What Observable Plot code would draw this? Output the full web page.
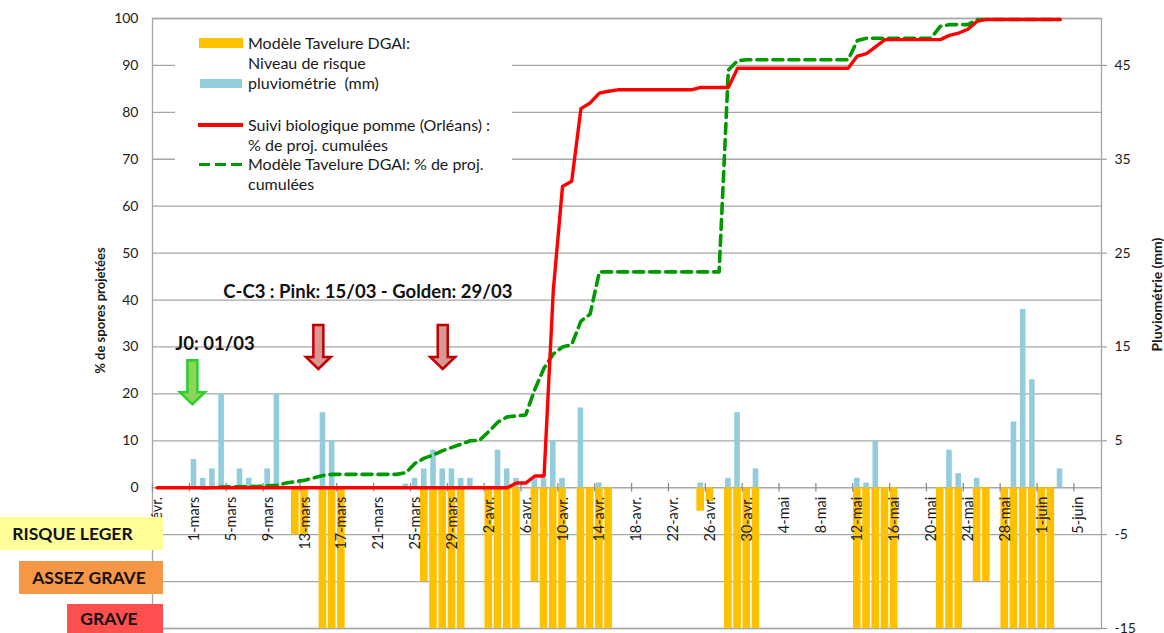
<!DOCTYPE html>
<html>
<head>
<meta charset="utf-8">
<script src="https://cdn.jsdelivr.net/npm/d3@7"></script>
<script src="https://cdn.jsdelivr.net/npm/@observablehq/plot@0.6"></script>
<style>
  body { margin: 0; background: #fff; }
  #wrap { position: relative; width: 1164px; height: 633px; overflow: hidden; font-family: Lato, "Open Sans", sans-serif; color: #1a1a1a; }
  #chart { position: absolute; left: 0; top: 0; }
  .legend { position: absolute; left: 175px; top: 28px; width: 337px; height: 168px; background: #fff; }
  .lg-text { position: absolute; left: 248px; font-size: 16px; line-height: 19.5px; color: #1a1a1a; white-space: nowrap; }
  .sw { position: absolute; }
  .risk { position: absolute; box-sizing: border-box; font-weight: bold; font-size: 17.5px; display: flex; align-items: center; justify-content: center; color: #111; }
</style>
</head>
<body>
<div id="wrap">
  <div id="chart"></div>
</div>
<script>
// ---------------- DATA ----------------
// daily rainfall (mm), right axis
const rainDates = ["2019-03-01","2019-03-02","2019-03-03","2019-03-04","2019-03-06","2019-03-07","2019-03-09","2019-03-10",
  "2019-03-15","2019-03-16","2019-03-24","2019-03-25","2019-03-26","2019-03-27","2019-03-28","2019-03-29","2019-03-30","2019-03-31",
  "2019-04-03","2019-04-04","2019-04-05","2019-04-07","2019-04-08","2019-04-09","2019-04-10","2019-04-12","2019-04-14",
  "2019-04-25","2019-04-28","2019-04-29","2019-05-01","2019-05-12","2019-05-13","2019-05-14",
  "2019-05-22","2019-05-23","2019-05-25","2019-05-29","2019-05-30","2019-05-31","2019-06-03"];
const rainMm = [3,1,2,10,2,1,2,10,
  8,5,0.4,1,2,4,2,2,1,1,
  4,2,1,1,1,5,1,8.5,0.5,
  0.5,1,8,2,1,0.5,5,
  4,1.5,1,7,19,11.5,2];

// Modèle Tavelure DGAl : niveau de risque (plotted on the right axis, negative)
const riskDates = ["2019-03-12","2019-03-13","2019-03-15","2019-03-16","2019-03-17",
  "2019-03-26","2019-03-27","2019-03-28","2019-03-29","2019-03-30",
  "2019-04-02","2019-04-03","2019-04-04","2019-04-05",
  "2019-04-07","2019-04-08","2019-04-09","2019-04-10",
  "2019-04-12","2019-04-13","2019-04-14","2019-04-15",
  "2019-04-25","2019-04-26",
  "2019-04-28","2019-04-29","2019-04-30","2019-05-01",
  "2019-05-12","2019-05-13","2019-05-14","2019-05-15","2019-05-16",
  "2019-05-21","2019-05-22","2019-05-23","2019-05-25","2019-05-26",
  "2019-05-28","2019-05-29","2019-05-30","2019-05-31","2019-06-01","2019-06-02"];
const riskLevel = [-5,-5,-15,-15,-15,
  -10,-15,-15,-15,-15,
  -15,-15,-15,-15,
  -10,-15,-15,-15,
  -15,-15,-15,-15,
  -2.5,-1.5,
  -15,-15,-15,-15,
  -15,-15,-15,-15,-15,
  -15,-15,-15,-10,-10,
  -15,-15,-15,-15,-15,-15];

// Suivi biologique pomme (Orléans) : % de projections cumulées, daily from 25-févr.
const bioStart = "2019-02-25";
const bioPct = [
  0,0,0,0,0,0,0,0,0,0, 0,0,0,0,0,0,0,0,0,0,
  0,0,0,0,0,0,0,0,0,0, 0,0,0,0,0,0,0,0,0,
  1,1,2.5,2.5,42,64.2,65.3,80.8,82,84.1,84.5,
  84.8,84.8,84.8,84.8,84.8,84.8,84.8,84.8,84.8,
  85.3,85.3,85.3,85.3,
  89.4,89.4,89.4,89.4,89.4,89.4,89.4,89.4,89.4,89.4,89.4,89.4,89.4,
  92,92.5,94,
  95.5,95.5,95.5,95.5,95.5,95.5,95.5,
  96.4,96.9,97.7,99.4,
  99.8,99.8,99.8,99.8,99.8,99.8,99.8,99.8,99.8];

// Modèle Tavelure DGAl : % de projections cumulées, daily from 2-mars
const modelStart = "2019-03-02";
const modelPct = [
  0,0.05,0.15,0.2,0.2,0.25,0.3,0.4,0.5,1.0,1.3,1.6,2.1,2.6,
  2.85,2.85,2.85,2.85,2.85,2.85,2.85,2.85,
  3.2,5.2,6.3,7.0,7.9,8.6,9.3,10,10.1,12,14,15.1,15.3,15.5,
  21,25.5,28.5,30,30.5,35.5,37,
  46,46,46,46,46,46,46,46,46,46,46,46,46,46,
  89,91,
  91.2,91.2,91.2,91.2,91.2,91.2,91.2,91.2,91.2,91.2,91.2,91.2,
  95.3,
  95.8,95.8,95.8,95.8,95.8,95.8,95.8,95.8,
  98.3,98.7,98.7,98.7,
  99.8,99.8,99.8,99.8,99.8,99.8,99.8,99.8,99.8,99.8];

// x-axis tick labels (every 4 days from 25-févr.)
const tickLabels = ["25-févr.","1-mars","5-mars","9-mars","13-mars","17-mars","21-mars","25-mars","29-mars",
  "2-avr.","6-avr.","10-avr.","14-avr.","18-avr.","22-avr.","26-avr.","30-avr.",
  "4-mai","8-mai","12-mai","16-mai","20-mai","24-mai","28-mai","1-juin","5-juin"];
const leftTicks = [0,10,20,30,40,50,60,70,80,90,100];
const rightTicks = [-15,-5,5,15,25,35,45];

// ---------------- BUILD ----------------
const DAY = 864e5;
const parse = s => new Date(s + "T00:00:00Z");
const xStart = parse("2019-02-25");
const xEnd = parse("2019-06-08");
const add = (d, n) => new Date(+d + n * DAY);

const rain = rainDates.map((d, i) => ({x1: parse(d), x2: add(parse(d), 1), mm: rainMm[i]}));
const risk = riskDates.map((d, i) => ({x1: parse(d), x2: add(parse(d), 1), v: riskLevel[i]}));
const bio = bioPct.map((v, i) => ({x: add(parse(bioStart), i + 0.5), v}));
const model = modelPct.map((v, i) => ({x: add(parse(modelStart), i + 0.5), v}));
const ticks = tickLabels.map((t, i) => ({x: add(xStart, 4 * i), t}));

const arrowSymbol = {
  draw(ctx) {
    ctx.moveTo(-5, -22); ctx.lineTo(5, -22); ctx.lineTo(5, 10); ctx.lineTo(12.5, 10);
    ctx.lineTo(0, 22); ctx.lineTo(-12.5, 10); ctx.lineTo(-5, 10); ctx.closePath();
  }
};
const greenArrow = [{x: new Date("2019-03-01T08:00:00Z"), y: 22.5}];
const redArrows = [{x: new Date("2019-03-15T00:00:00Z"), y: 30}, {x: new Date("2019-03-28T12:00:00Z"), y: 30}];

const chart = Plot.plot({
  width: 1164,
  height: 633,
  marginLeft: 152,
  marginRight: 63,
  marginTop: 18,
  marginBottom: 5,
  style: {fontFamily: "Lato, 'Open Sans', sans-serif", fontSize: "14px", color: "#1a1a1a", background: "#fff"},
  x: {type: "utc", domain: [xStart, xEnd], axis: null},
  y: {domain: [-30, 100], axis: null},
  marks: [
    Plot.ruleY(d3.range(-30, 101, 10), {stroke: "#a6a6a6", strokeWidth: 1.3}),
    Plot.frame({stroke: "#a6a6a6", strokeWidth: 1.3}),
    Plot.rectY(risk, {x1: "x1", x2: "x2", y1: 0, y2: d => d.v * 2, fill: "#FFC000", insetLeft: 0.8, insetRight: 0.8}),
    Plot.rectY(rain, {x1: "x1", x2: "x2", y1: 0, y2: d => d.mm * 2, fill: "#93CDDD", insetLeft: 1.8, insetRight: 1.8}),
    Plot.ruleX(ticks, {x: "x", y1: -0.9, y2: 0.9, stroke: "#8c8c8c", strokeWidth: 1.3}),
    Plot.text(ticks, {x: "x", y: 0, text: "t", rotate: -90, textAnchor: "end", lineAnchor: "middle", dy: 9, dx: 5, fontSize: 14.5, fill: "#1a1a1a"}),
    Plot.axisY({ticks: leftTicks, tickSize: 0, tickPadding: 14, fontSize: 14, anchor: "left", label: null}),
    Plot.axisY({ticks: rightTicks.map(v => v * 2), tickFormat: v => v / 2, tickSize: 5, tickPadding: 8, fontSize: 14, anchor: "right", label: null, stroke: "#8c8c8c"}),
    Plot.text(["% de spores projetées"], {frameAnchor: "left", textAnchor: "middle", rotate: -90, dx: -52, dy: -13, fontWeight: "bold", fontSize: 13, fill: "#1a1a1a"}),
    Plot.text(["Pluviométrie (mm)"], {frameAnchor: "right", textAnchor: "middle", rotate: -90, dx: 56, dy: -29, fontWeight: "bold", fontSize: 14, fill: "#1a1a1a"}),
    Plot.line(model, {x: "x", y: "v", stroke: "#009a00", strokeWidth: 3.6, strokeDasharray: "10,6"}),
    Plot.line(bio, {x: "x", y: "v", stroke: "#ff0000", strokeWidth: 3.4}),
    Plot.text(["J0: 01/03"], {x: () => parse("2019-03-01"), y: 30.7, textAnchor: "start", dx: -14, fontWeight: "bold", fontSize: 18.5, fill: "#111"}),
    Plot.text(["C-C3 : Pink: 15/03 - Golden: 29/03"], {x: () => new Date("2019-03-22T00:00:00Z"), y: 41.6, textAnchor: "middle", dx: -15, fontWeight: "bold", fontSize: 18.5, fill: "#111"}),
    Plot.dot(greenArrow, {x: "x", y: "y", symbol: arrowSymbol, r: 10, fill: "#8fd45a", stroke: "#2ccf2c", strokeWidth: 2.5}),
    Plot.dot(redArrows, {x: "x", y: "y", symbol: arrowSymbol, r: 10, fill: "#d99694", stroke: "#c00000", strokeWidth: 2.5})
  ]
});
document.getElementById("chart").appendChild(chart);

// ---------------- LEGEND & RISK LABELS (HTML overlays) ----------------
const wrap = document.getElementById("wrap");
function el(cls, style, html) {
  const e = document.createElement("div");
  e.className = cls; Object.assign(e.style, style); if (html != null) e.innerHTML = html;
  wrap.appendChild(e); return e;
}
el("legend", {});
el("sw", {left: "199px", top: "38px", width: "44px", height: "10px", background: "#FFC000"});
el("lg-text", {top: "33px"}, "Modèle Tavelure DGAl:<br>Niveau de risque");
el("sw", {left: "200px", top: "79px", width: "42px", height: "9px", background: "#93CDDD"});
el("lg-text", {top: "73px"}, "pluviométrie&nbsp; (mm)");
el("sw", {left: "198px", top: "123px", width: "45px", height: "3.5px", background: "#ff0000"});
el("lg-text", {top: "115px"}, "Suivi biologique pomme (Orléans) :<br>% de proj. cumulées");
[199, 215, 231].forEach(x => el("sw", {left: x + "px", top: "162.5px", width: "11px", height: "3.5px", background: "#009a00"}));
el("lg-text", {top: "154px"}, "Modèle Tavelure DGAl: % de proj.<br>cumulées");

el("risk", {left: "0px", top: "517px", width: "163px", height: "33px", background: "#FFFF99", paddingRight: "18px"}, "RISQUE LEGER");
el("risk", {left: "19px", top: "561px", width: "144px", height: "33px", background: "#F79646", paddingRight: "4px"}, "ASSEZ GRAVE");
el("risk", {left: "67px", top: "604px", width: "96px", height: "29px", background: "#FF4F4F", paddingRight: "12px"}, "GRAVE");
</script>
</body>
</html>
